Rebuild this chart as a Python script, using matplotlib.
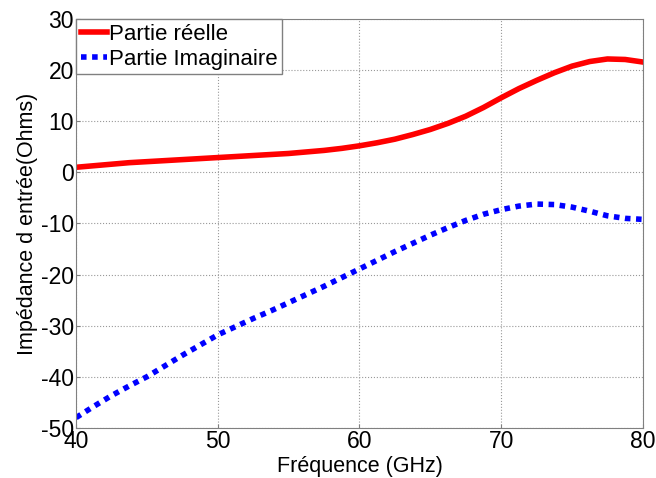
import matplotlib
matplotlib.use("Agg")
import matplotlib.pyplot as plt

freq = [40, 41.25, 42.5, 43.75, 45, 46.25, 47.5, 48.75, 50, 51.25, 52.5, 53.75, 55, 56.25,
        57.5, 58.75, 60, 61.25, 62.5, 63.75, 65, 66.25, 67.5, 68.75, 70, 71.25, 72.5, 73.75,
        75, 76.25, 77.5, 78.75, 80]
reelle = [1.0, 1.3, 1.6, 1.9, 2.1, 2.3, 2.5, 2.7, 2.9, 3.1, 3.3, 3.5, 3.7, 4.0,
          4.3, 4.7, 5.2, 5.8, 6.5, 7.4, 8.4, 9.6, 11.0, 12.7, 14.6, 16.4, 18.0, 19.5,
          20.8, 21.7, 22.2, 22.1, 21.6]
imag = [-48.0, -45.8, -43.7, -41.8, -40.0, -37.9, -35.8, -33.8, -31.8, -30.2, -28.6, -27.1, -25.5, -23.9,
        -22.3, -20.6, -18.9, -17.2, -15.5, -13.9, -12.3, -10.8, -9.4, -8.2, -7.3, -6.6, -6.2, -6.3,
        -6.8, -7.6, -8.5, -9.0, -9.2]


def main():
    plt.rcParams['font.family'] = ['Liberation Sans', 'DejaVu Sans']
    plt.rcParams['axes.unicode_minus'] = False
    fig = plt.figure(figsize=(6.56, 4.78), dpi=100)
    ax = fig.add_axes([0.116, 0.105, 0.864, 0.855])
    ax.plot(freq, reelle, color='#ff0000', lw=4, label='Partie réelle')
    ax.plot(freq, imag, color='#0000ff', lw=4, linestyle=(0, (1, 1)), label='Partie Imaginaire')
    ax.set_xlim(40, 80)
    ax.set_ylim(-50, 30)
    ax.set_xticks(range(40, 81, 10))
    ax.set_yticks(range(-50, 31, 10))
    ax.grid(True, linestyle=':', color='#999999', lw=0.8)
    for s in ax.spines.values():
        s.set_color('#808080')
    ax.tick_params(direction='in', labelsize=16.5, color='#808080', length=3, pad=1.5)
    ax.set_xlabel('Fréquence (GHz)', fontsize=15.5, labelpad=2)
    ax.set_ylabel("Impédance d entrée(Ohms)", fontsize=15.5, labelpad=2)
    leg = ax.legend(loc='upper left', fontsize=16, handlelength=1.2, handletextpad=0.1,
                    borderaxespad=0, borderpad=0.2, labelspacing=0.2, fancybox=False, framealpha=1)
    leg.get_frame().set_edgecolor('#808080')
    leg.get_frame().set_linewidth(1)
    fig.savefig('out.png', dpi=100)
    plt.close(fig)


if __name__ == "__main__":
    main()
